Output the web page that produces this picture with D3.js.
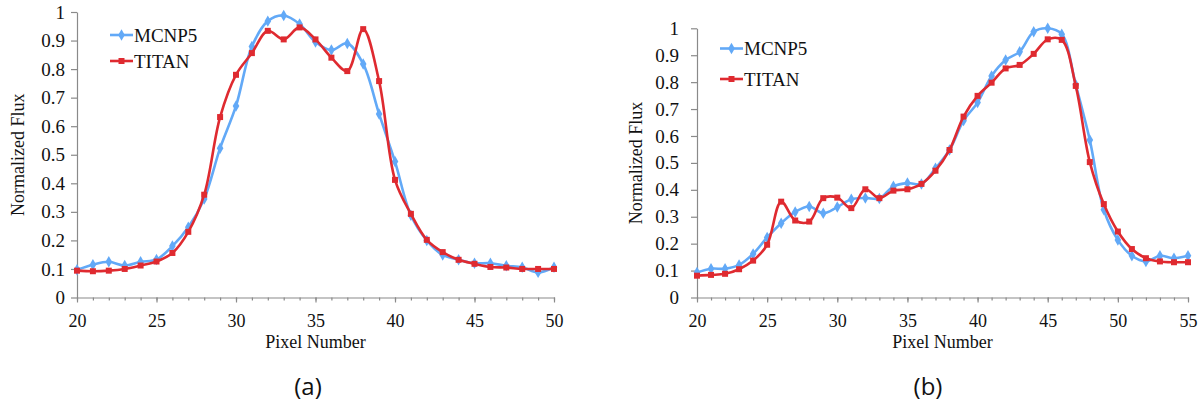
<!DOCTYPE html>
<html>
<head>
<meta charset="utf-8">
<script src="https://cdn.jsdelivr.net/npm/d3@7"></script>
<style>
  body { margin: 0; background: #fff; }
  svg { display: block; }
</style>
</head>
<body>
<div id="chart"></div>
<script>
// pixel numbers (x categories) for each panel
const pixelsA = [20,21,22,23,24,25,26,27,28,29,30,31,32,33,34,35,36,37,38,39,40,41,42,43,44,45,46,47,48,49,50]
const pixelsB = [20,21,22,23,24,25,26,27,28,29,30,31,32,33,34,35,36,37,38,39,40,41,42,43,44,45,46,47,48,49,50,51,52,53,54,55]

// normalized flux
const mcnpA = [0.097,0.115,0.125,0.112,0.125,0.133,0.18,0.246,0.345,0.523,0.671,0.879,0.968,0.988,0.958,0.895,0.867,0.89,0.818,0.643,0.476,0.288,0.2,0.149,0.132,0.12,0.12,0.111,0.106,0.088,0.106]
const titanA = [0.094,0.092,0.094,0.1,0.112,0.126,0.156,0.23,0.36,0.632,0.78,0.856,0.934,0.904,0.946,0.904,0.84,0.793,0.94,0.758,0.412,0.293,0.202,0.159,0.132,0.118,0.107,0.105,0.1,0.1,0.1]
const mcnpB = [0.093,0.107,0.107,0.121,0.162,0.223,0.276,0.318,0.338,0.313,0.336,0.365,0.37,0.368,0.413,0.425,0.422,0.48,0.548,0.657,0.724,0.823,0.882,0.913,0.987,1.0,0.978,0.79,0.585,0.326,0.214,0.155,0.134,0.155,0.146,0.155]
const titanB = [0.081,0.084,0.088,0.105,0.137,0.196,0.356,0.286,0.282,0.369,0.371,0.332,0.402,0.369,0.397,0.402,0.422,0.471,0.548,0.672,0.749,0.798,0.851,0.864,0.905,0.959,0.957,0.786,0.503,0.347,0.245,0.18,0.146,0.134,0.131,0.131]

// tick labels
const yTicks = [0,0.1,0.2,0.3,0.4,0.5,0.6,0.7,0.8,0.9,1]
const xMajorA = [20,25,30,35,40,45,50]
const xMajorB = [20,25,30,35,40,45,50,55]
const seriesNames = ["MCNP5", "TITAN"]

const W = 1204, H = 404
const BLUE = "#62a9f7", RED = "#df2a30", AXIS = "#8a8a8a"
const SERIF = "Liberation Serif, Times New Roman, serif"

const svg = d3.select("#chart").append("svg")
    .attr("width", W)
    .attr("height", H)
    .style("font-family", SERIF)

svg.append("rect").attr("width", W).attr("height", H).attr("fill", "#fff")

function drawPanel(p) {
    const x = d3.scaleLinear().domain(p.xDomain).range([p.left, p.right])
    const y = d3.scaleLinear().domain([0, 1]).range([p.bottom, p.top])
    const g = svg.append("g")

    //minor ticks every pixel, no labels
    g.append("g")
        .attr("transform", `translate(0,${p.bottom})`)
        .call(d3.axisBottom(x).tickValues(p.pixels).tickSize(3).tickSizeOuter(0).tickFormat(""))
        .call(a => a.select(".domain").remove())

    //major ticks with labels
    const xAxis = g.append("g")
        .attr("transform", `translate(0,${p.bottom})`)
        .call(d3.axisBottom(x).tickValues(p.xMajor).tickSize(5).tickSizeOuter(0).tickPadding(12))
    xAxis.selectAll("text")
        .style("font-family", SERIF)
        .style("font-size", "18px")
        .attr("fill", "#111")

    const yAxis = g.append("g")
        .attr("transform", `translate(${p.left},0)`)
        .call(d3.axisLeft(y).tickValues(yTicks).tickSize(6).tickSizeOuter(0)
            .tickPadding(p.yPad).tickFormat(d3.format("~g")))
    yAxis.selectAll("text")
        .style("font-family", SERIF)
        .style("font-size", "19px")
        .attr("fill", "#111")

    g.selectAll(".domain, .tick line").attr("stroke", AXIS).attr("stroke-width", 1.2)

    //axis titles
    g.append("text")
        .attr("x", (p.left + p.right) / 2)
        .attr("y", 342)
        .attr("dy", "0.35em")
        .attr("text-anchor", "middle")
        .style("font-size", "18px")
        .attr("fill", "#111")
        .text("Pixel Number")

    g.append("text")
        .attr("transform", `translate(${p.yLabelX},${(p.top + p.bottom) / 2}) rotate(-90)`)
        .attr("dy", "0.35em")
        .attr("text-anchor", "middle")
        .style("font-size", "18px")
        .attr("fill", "#111")
        .text("Normalized Flux")

    g.append("text")
        .attr("x", p.captionX)
        .attr("y", 387)
        .attr("dy", "0.35em")
        .attr("text-anchor", "middle")
        .style("font-family", "'Open Sans', 'DejaVu Sans', sans-serif")
        .style("font-size", "24px")
        .attr("fill", "#111")
        .text(p.caption)

    //smoothed lines like the excel chart
    const line = d3.line()
        .x(d => x(d[0]))
        .y(d => y(d[1]))
        .curve(d3.curveCatmullRom.alpha(0.5))

    const series = [
        { name: seriesNames[0], values: p.mcnp, color: BLUE, symbol: d3.symbolDiamond, size: 38 },
        { name: seriesNames[1], values: p.titan, color: RED, symbol: d3.symbolSquare, size: 36 }
    ]

    series.forEach(s => {
        const pts = p.pixels.map((px, i) => [px, s.values[i]])
        g.append("path")
            .datum(pts)
            .attr("fill", "none")
            .attr("stroke", s.color)
            .attr("stroke-width", 2.6)
            .attr("d", line)

        g.selectAll(null)
            .data(pts)
            .enter().append("path")
            .attr("transform", d => `translate(${x(d[0])},${y(d[1])})`)
            .attr("d", d3.symbol().type(s.symbol).size(s.size))
            .attr("fill", s.color)
    })

    //legend
    series.forEach((s, i) => {
        const ly = p.legendY[i]
        g.append("line")
            .attr("x1", p.legendX).attr("x2", p.legendX + 23)
            .attr("y1", ly).attr("y2", ly)
            .attr("stroke", s.color).attr("stroke-width", 2.6)
        g.append("path")
            .attr("transform", `translate(${p.legendX + 11.5},${ly})`)
            .attr("d", d3.symbol().type(s.symbol).size(s.size))
            .attr("fill", s.color)
        g.append("text")
            .attr("x", p.legendX + 24)
            .attr("y", ly)
            .attr("dy", "0.35em")
            .style("font-size", "19px")
            .attr("fill", "#111")
            .text(s.name)
    })
}

drawPanel({
    pixels: pixelsA, mcnp: mcnpA, titan: titanA, xDomain: [20, 50], xMajor: xMajorA,
    left: 77, right: 554, top: 12, bottom: 297.5, yPad: 6, yLabelX: 18,
    legendX: 110, legendY: [35, 61], caption: "(a)", captionX: 308
})

drawPanel({
    pixels: pixelsB, mcnp: mcnpB, titan: titanB, xDomain: [20, 55], xMajor: xMajorB,
    left: 697, right: 1188, top: 28.3, bottom: 297.5, yPad: 12, yLabelX: 636,
    legendX: 720, legendY: [48.5, 79], caption: "(b)", captionX: 928
})
</script>
</body>
</html>
